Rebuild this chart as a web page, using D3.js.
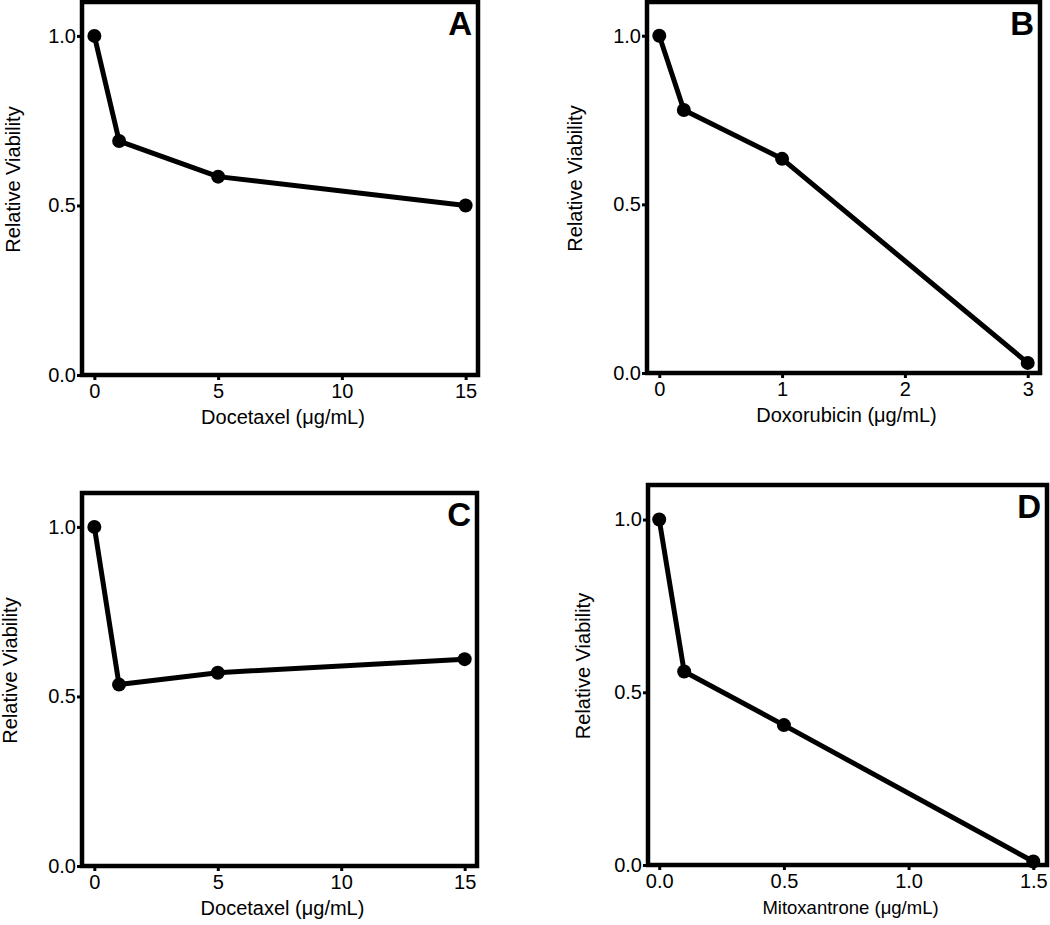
<!DOCTYPE html>
<html>
<head>
<meta charset="utf-8">
<script src="https://cdn.jsdelivr.net/npm/d3@7"></script>
<style>
  body { margin: 0; background: #fff; }
  text { font-family: "Liberation Sans", Arial, sans-serif; fill: #000; }
</style>
</head>
<body>
<div id="chart"></div>
<script>
// values
const dosesA = [0, 1, 5, 15];
const viabilityA = [1.0, 0.69, 0.585, 0.50];
const dosesB = [0, 0.2, 1, 3];
const viabilityB = [1.0, 0.78, 0.635, 0.03];
const dosesC = [0, 1, 5, 15];
const viabilityC = [1.0, 0.535, 0.57, 0.61];
const dosesD = [0, 0.1, 0.5, 1.5];
const viabilityD = [1.0, 0.56, 0.405, 0.01];

const xTicksA = [0, 5, 10, 15];
const xTicksB = [0, 1, 2, 3];
const xTicksD = [0, 0.5, 1.0, 1.5];
const yTicks = [0, 0.5, 1.0];

const yLabel = "Relative Viability";

const panels = [
  { letter: "A", title: "Docetaxel (\u03bcg/mL)", x: dosesA, y: viabilityA, ticks: xTicksA, fmt: d3.format("d"),
    xDomain: [-0.5, 15.5], box: { left: 82, top: 2, right: 478, bottom: 375 }, titleSize: 20, yLabelX: 62 },
  { letter: "B", title: "Doxorubicin (\u03bcg/mL)", x: dosesB, y: viabilityB, ticks: xTicksB, fmt: d3.format("d"),
    xDomain: [-0.1, 3.1], box: { left: 647, top: 2, right: 1040, bottom: 373 }, titleSize: 20, yLabelX: 65 },
  { letter: "C", title: "Docetaxel (\u03bcg/mL)", x: dosesC, y: viabilityC, ticks: xTicksA, fmt: d3.format("d"),
    xDomain: [-0.5, 15.5], box: { left: 82, top: 493, right: 477, bottom: 866 }, titleSize: 20, yLabelX: 65 },
  { letter: "D", title: "Mitoxantrone (\u03bcg/mL)", x: dosesD, y: viabilityD, ticks: xTicksD, fmt: d3.format(".1f"),
    xDomain: [-0.045, 1.555], box: { left: 648, top: 485, right: 1047, bottom: 865 }, titleSize: 18.5, yLabelX: 58 },
];

const svg = d3.select("#chart").append("svg")
  .attr("width", 1050)
  .attr("height", 925);

panels.forEach((p) => {
  const b = p.box;
  const xScale = d3.scaleLinear().domain(p.xDomain).range([b.left, b.right]);
  const yScale = d3.scaleLinear().domain([0, 1.1]).range([b.bottom, b.top]);
  const g = svg.append("g");

  // axes (ticks only, the frame draws the lines)
  const xAxis = g.append("g")
    .attr("transform", `translate(0,${b.bottom})`)
    .call(d3.axisBottom(xScale).tickValues(p.ticks).tickFormat(p.fmt).tickSize(5).tickPadding(4));
  const yAxis = g.append("g")
    .attr("transform", `translate(${b.left},0)`)
    .call(d3.axisLeft(yScale).tickValues(yTicks).tickFormat(d3.format(".1f")).tickSize(5).tickPadding(1));
  [xAxis, yAxis].forEach((ax) => {
    ax.select(".domain").remove();
    ax.attr("font-size", null).attr("font-family", null);
    ax.selectAll(".tick line").attr("stroke", "#000").attr("stroke-width", 3);
    ax.selectAll(".tick text").style("font-size", "20px").attr("fill", "#000");
  });

  // frame
  g.append("rect")
    .attr("x", b.left)
    .attr("y", b.top)
    .attr("width", b.right - b.left)
    .attr("height", b.bottom - b.top)
    .attr("fill", "none")
    .attr("stroke", "#000")
    .attr("stroke-width", 4.5);

  const pts = p.x.map((d, i) => ({ x: d, y: p.y[i] }));
  const line = d3.line().x((d) => xScale(d.x)).y((d) => yScale(d.y));

  g.append("path")
    .attr("d", line(pts))
    .attr("fill", "none")
    .attr("stroke", "#000")
    .attr("stroke-width", 5)
    .attr("stroke-linejoin", "round");

  g.selectAll("circle")
    .data(pts)
    .join("circle")
    .attr("cx", (d) => xScale(d.x))
    .attr("cy", (d) => yScale(d.y))
    .attr("r", 7)
    .attr("fill", "#000");

  // panel letter
  g.append("text")
    .attr("x", b.right - 6)
    .attr("y", b.top + 33)
    .attr("text-anchor", "end")
    .style("font-size", "33px")
    .style("font-weight", "bold")
    .text(p.letter);

  // axis titles
  g.append("text")
    .attr("x", (b.left + b.right) / 2 + 3)
    .attr("y", b.bottom + 49)
    .attr("text-anchor", "middle")
    .style("font-size", p.titleSize + "px")
    .text(p.title);

  g.append("text")
    .attr("transform", `translate(${b.left - p.yLabelX},${(b.top + b.bottom) / 2 - 9}) rotate(-90)`)
    .attr("text-anchor", "middle")
    .style("font-size", "20px")
    .text(yLabel);
});
</script>
</body>
</html>
